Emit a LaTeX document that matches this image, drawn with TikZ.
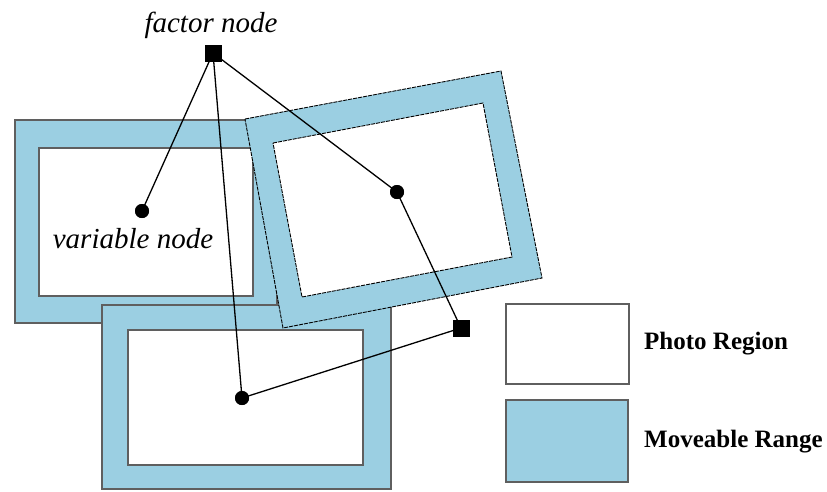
\documentclass[tikz,border=0pt]{standalone}
\usepackage{fontspec}
\setmainfont{Liberation Serif}
\definecolor{mrange}{RGB}{155,207,226}
\definecolor{edgegrey}{RGB}{95,95,95}
\tikzset{
  rangefill/.style={fill=mrange, draw=edgegrey, line width=1.4pt},
  photofill/.style={fill=white, draw=edgegrey, line width=1.4pt},
  rotrange/.style={fill=mrange, draw=black, line width=0.9pt, dash pattern=on 4pt off 1pt},
  rotphoto/.style={fill=white, draw=black, line width=0.9pt, dash pattern=on 4pt off 1pt},
  varnode/.style={circle, fill=black, inner sep=0pt, minimum size=14pt},
  facnode/.style={rectangle, fill=black, inner sep=0pt, minimum size=17pt},
  link/.style={draw=black, line width=1.3pt},
  itlabel/.style={font=\fontsize{29}{32}\selectfont\itshape, anchor=base, inner sep=0pt},
  leglabel/.style={font=\fontsize{25}{28}\selectfont\bfseries, anchor=base west, inner sep=0pt}
}
\begin{document}
\begin{tikzpicture}[x=1pt,y=-1pt]
\useasboundingbox (0,0) rectangle (827,491);
% left rectangle
\draw[rangefill] (15,120) rectangle (277,323);
\draw[photofill] (39,148) rectangle (253,296);
% bottom rectangle
\draw[rangefill] (102,305) rectangle (391,489);
\draw[photofill] (128,330) rectangle (363,465);
% rotated rectangle
\draw[rotrange] (245,119) -- (501,71) -- (542,278) -- (283,328) -- cycle;
\draw[rotphoto] (273,143) -- (483,103) -- (512,257) -- (302,297) -- cycle;
% legend
\draw[photofill] (506,304) rectangle (629,384);
\draw[rangefill] (506,400) rectangle (628,482);
\node[leglabel] (lphoto) at (644,349) {Photo Region};
\node[leglabel] (lrange) at (644,447) {Moveable Range};
% nodes
\node[facnode] (f1) at (213,53) {};
\node[facnode] (f2) at (461,328) {};
\node[varnode] (v1) at (142,211) {};
\node[varnode] (v2) at (397,192) {};
\node[varnode] (v3) at (242,398) {};
\node[itlabel] (tf) at (211,32) {factor node};
\node[itlabel] (tv) at (133,248) {variable node};
% connectors
\draw[link] (f1.center) -- (v1.center);
\draw[link] (f1.center) -- (v3.center);
\draw[link] (f1.center) -- (v2.center);
\draw[link] (v2.center) -- (f2.center);
\draw[link] (f2.center) -- (v3.center);
% redraw nodes on top
\node[facnode] at (f1) {};
\node[facnode] at (f2) {};
\node[varnode] at (v1) {};
\node[varnode] at (v2) {};
\node[varnode] at (v3) {};
\end{tikzpicture}
\end{document}
